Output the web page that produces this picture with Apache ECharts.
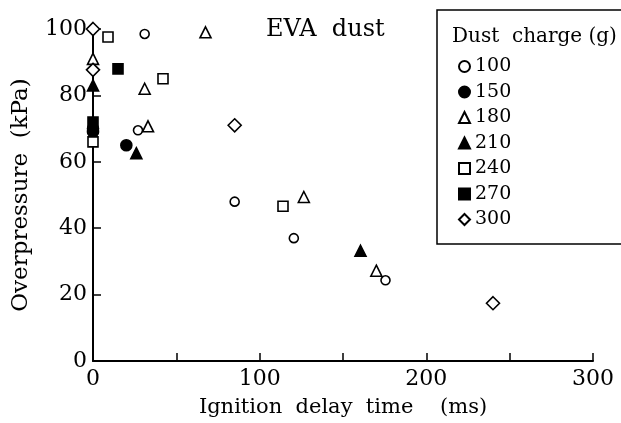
<!DOCTYPE html>
<html><head><meta charset="utf-8">
<script src="https://cdn.jsdelivr.net/npm/echarts@6/dist/echarts.min.js"></script>
<style>html,body{margin:0;padding:0;background:#fff}#c{width:621px;height:423px}</style>
</head><body><div id="c"></div>
<script>
// Dust charge series: [ignition delay (ms), overpressure (kPa)]
const names = ['100', '150', '180', '210', '240', '270', '300'];
const s100 = [[31, 98.5], [27, 69.5], [85, 48], [120.5, 37], [175.5, 24.3]];
const s150 = [[0, 70], [0, 69], [20, 65]];
const s180 = [[67.5, 99], [0, 91], [31, 82], [33, 70.7], [126.5, 49.4], [170, 27.2]];
const s210 = [[0, 83], [26, 62.6], [160.5, 33.2]];
const s240 = [[9, 97.6], [42, 85], [0, 66], [114, 46.6]];
const s270 = [[0, 72], [15, 88]];
const s300 = [[0, 100], [0, 87.7], [85, 71], [240, 17.4]];
const xTicks = [0, 100, 200, 300];
const yTicks = [0, 20, 40, 60, 80, 100];

const serif = 'DejaVu Serif';
const styles = [
  {symbol: 'circle', size: 9, fill: '#fff'},
  {symbol: 'circle', size: 11, fill: '#000'},
  {symbol: 'triangle', size: 11, fill: '#fff'},
  {symbol: 'triangle', size: 11, fill: '#000'},
  {symbol: 'rect', size: 10, fill: '#fff'},
  {symbol: 'rect', size: 10, fill: '#000'},
  {symbol: 'diamond', size: 13, fill: '#fff'}
];
const data = [s100, s150, s180, s210, s240, s270, s300];

const chart = echarts.init(document.getElementById('c'), null, {renderer: 'canvas'});
chart.setOption({
  animation: false,
  backgroundColor: '#fff',
  title: {
    text: 'EVA  dust', left: 266, top: 18, padding: 0,
    textStyle: {fontFamily: serif, fontWeight: 'normal', fontSize: 24, color: '#000'}
  },
  graphic: [{
    type: 'text', left: 452, top: 27,
    style: {text: 'Dust  charge (g)', fontFamily: serif, fontSize: 20, fill: '#000'}
  }],
  legend: {
    orient: 'vertical', left: 437, top: 10,
    padding: [47, 150, 15, 21],
    itemGap: 6.5, itemWidth: 11, itemHeight: 11,
    borderColor: '#000', borderWidth: 1.5,
    textStyle: {fontFamily: serif, fontSize: 19, color: '#000'},
    data: names
  },
  grid: {left: 93, right: 28, top: 29, bottom: 60},
  xAxis: {
    type: 'value', min: 0, max: 300, interval: 50,
    name: 'Ignition  delay  time    (ms)', nameLocation: 'middle', nameGap: 36,
    nameTextStyle: {fontFamily: serif, fontSize: 21, color: '#000'},
    axisLine: {lineStyle: {color: '#000', width: 2}},
    axisTick: {inside: true, length: 8, lineStyle: {color: '#000', width: 1.5}},
    axisLabel: {
      fontFamily: serif, fontSize: 22, color: '#000', margin: 7,
      formatter: v => xTicks.includes(v) ? String(v) : ''
    },
    splitLine: {show: false}
  },
  yAxis: {
    type: 'value', min: 0, max: 100, interval: 20,
    name: 'Overpressure  (kPa)', nameLocation: 'middle', nameGap: 60,
    nameTextStyle: {fontFamily: serif, fontSize: 23, color: '#000'},
    axisLine: {show: true, lineStyle: {color: '#000', width: 2}},
    axisTick: {show: true, inside: true, length: 8, lineStyle: {color: '#000', width: 1.5}},
    axisLabel: {
      fontFamily: serif, fontSize: 22, color: '#000', margin: 6,
      formatter: v => yTicks.includes(v) ? String(v) : ''
    },
    splitLine: {show: false}
  },
  series: names.map((n, i) => ({
    name: n, type: 'scatter', data: data[i],
    symbol: styles[i].symbol, symbolSize: styles[i].size,
    itemStyle: {color: styles[i].fill, borderColor: '#000', borderWidth: 1.6, opacity: 1},
    clip: false, z: 5
  }))
});
</script></body></html>
